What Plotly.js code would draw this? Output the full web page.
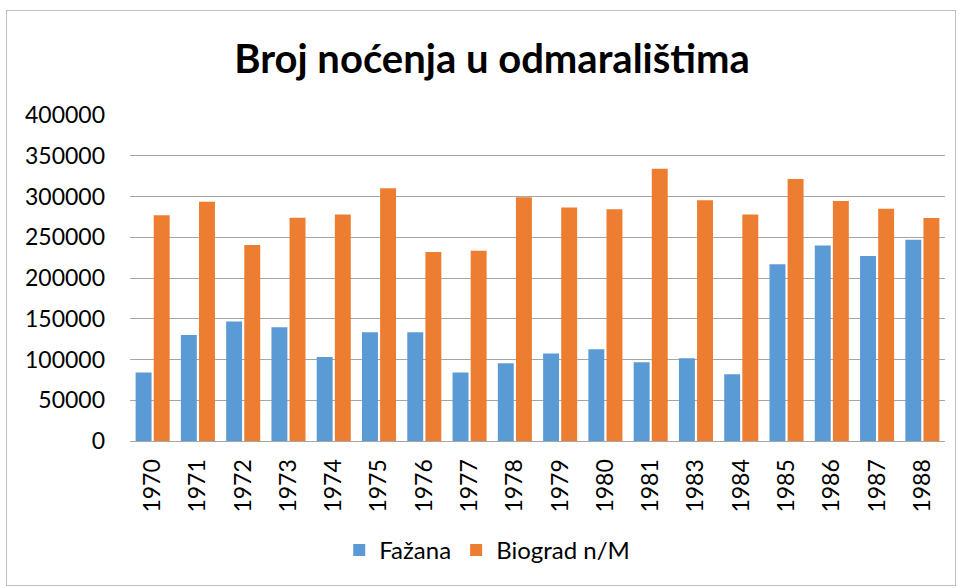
<!DOCTYPE html>
<html>
<head>
<meta charset="utf-8">
<script src="https://cdn.plot.ly/plotly-3.0.1.min.js"></script>
<style>
html,body{margin:0;padding:0;background:#fff;}
#wrap{position:relative;width:961px;height:588px;}
#chart{width:961px;height:588px;}
#frame{position:absolute;left:6px;top:10px;width:948px;height:574px;border:1px solid #bfbfbf;pointer-events:none;}
</style>
</head>
<body>
<div id="wrap"><div id="chart"></div><div id="frame"></div></div>
<script>
const years = ["1970","1971","1972","1973","1974","1975","1976","1977","1978","1979","1980","1981","1983","1984","1985","1986","1987","1988"];
const fazana = [84000,130000,146500,139500,103000,133500,133500,84000,95500,107500,112500,96500,101500,82000,217000,240000,227000,247000];
const biograd = [277000,293500,240500,274000,278000,310000,232000,233500,299000,286500,284500,334000,295500,278000,321500,294500,285000,273500];
const seriesNames = ["Fažana","Biograd n/M"];
const yTicks = [0,50000,100000,150000,200000,250000,300000,350000,400000];

const font = "Lato, 'Open Sans', sans-serif";
const traces = [
  {type:'bar', name:seriesNames[0], x:years, y:fazana, marker:{color:'#5B9BD5'}},
  {type:'bar', name:seriesNames[1], x:years, y:biograd, marker:{color:'#ED7D31'}}
];
const layout = {
  width:961, height:588,
  margin:{l:130, r:16, t:115, b:147},
  paper_bgcolor:'#fff', plot_bgcolor:'#fff',
  barmode:'group', bargap:0.2, bargroupgap:0.12,
  title:{text:'<b>Broj noćenja u odmaralištima</b>', font:{family:font, size:40, color:'#000'}, x:0.512, xref:'container', y:0.9, yref:'container', yanchor:'middle'},
  xaxis:{type:'category', tickangle:-90, tickfont:{family:font, size:23, color:'#000'}, showgrid:false, showline:true, linecolor:'#a6a6a6', linewidth:1, ticks:'', ticklabelstandoff:8},
  yaxis:{range:[0,400000], tickvals:yTicks, ticktext:yTicks.map(String), tickfont:{family:font, size:23, color:'#000'}, showgrid:true, gridcolor:'#a6a6a6', gridwidth:1, zeroline:false, showline:false, ticks:'', ticklabelstandoff:24},
  legend:{orientation:'h', xref:'container', x:0.507, xanchor:'center', yref:'container', y:0.064, yanchor:'middle', font:{family:font, size:24, color:'#000'}, itemwidth:30},
  showlegend:true
};
Plotly.newPlot('chart', traces, layout, {displayModeBar:false, staticPlot:true});
</script>
</body>
</html>
